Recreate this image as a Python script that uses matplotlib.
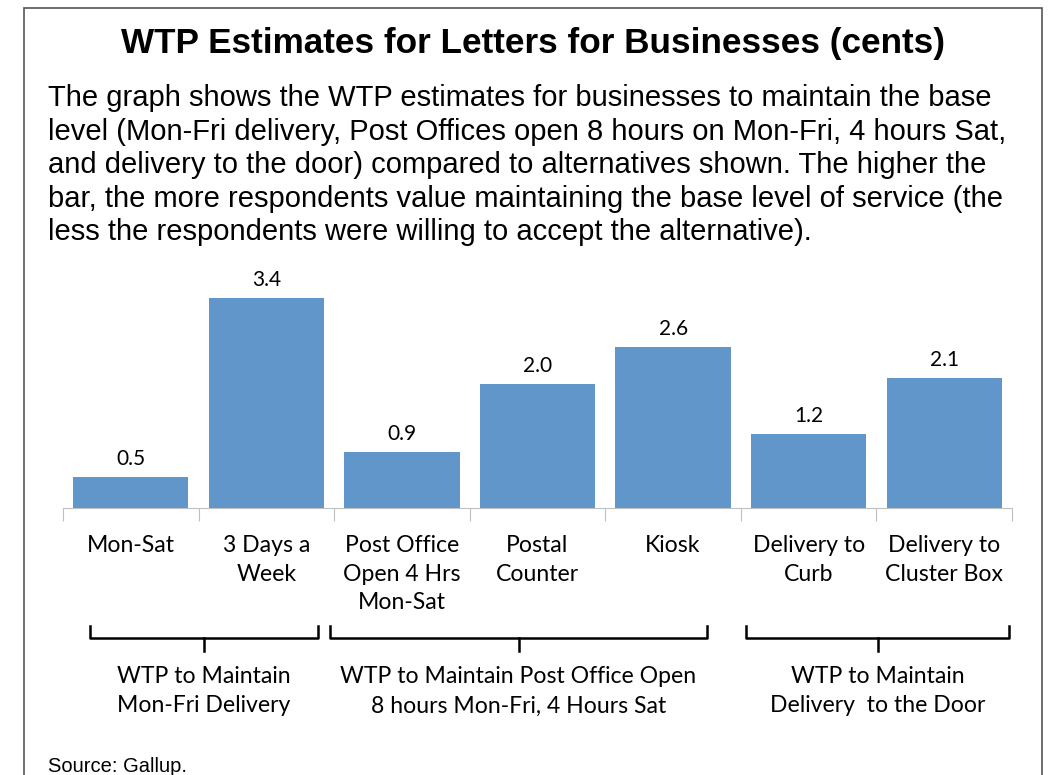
import matplotlib

matplotlib.use("Agg")

import matplotlib.pyplot as plt
from matplotlib.patches import Rectangle

CATEGORIES = ["Mon-Sat", "3 Days a\nWeek", "Post Office\nOpen 4 Hrs\nMon-Sat",
              "Postal\nCounter", "Kiosk", "Delivery to\nCurb",
              "Delivery to\nCluster Box"]
VALUES = [0.5, 3.4, 0.9, 2.0, 2.6, 1.2, 2.1]
VALUE_LABELS = ["0.5", "3.4", "0.9", "2.0", "2.6", "1.2", "2.1"]

# groups: (first category, last category, label)
GROUPS = [
    (0, 1, "WTP to Maintain\nMon-Fri Delivery"),
    (2, 4, "WTP to Maintain Post Office Open\n8 hours Mon-Fri, 4 Hours Sat"),
    (5, 6, "WTP to Maintain\nDelivery  to the Door"),
]

TITLE = "WTP Estimates for Letters for Businesses (cents)"
BODY = [
    "The graph shows the WTP estimates for businesses to maintain the base",
    "level (Mon-Fri delivery, Post Offices open 8 hours on Mon-Fri, 4 hours Sat,",
    "and delivery to the door) compared to alternatives shown. The higher the",
    "bar, the more respondents value maintaining the base level of service (the",
    "less the respondents were willing to accept the alternative).",
]
SOURCE = "Source: Gallup."

BAR_COLOR = "#6196CA"
AXIS_COLOR = "#BFBFBF"
LABEL_FONT = ["Lato", "DejaVu Sans"]
HEAD_FONT = ["Liberation Sans", "DejaVu Sans"]

W, H = 1048, 775
fig = plt.figure(figsize=(W / 100, H / 100), dpi=100)

# frame around the whole panel (bottom edge runs off the image)
fig.patches.append(Rectangle((24 / W, -0.02), (1042 - 24) / W, 1 - 8 / H + 0.02,
                             transform=fig.transFigure, fill=False,
                             edgecolor="#555555", lw=1.2))

fig.text(533 / W, 1 - 43 / H, TITLE, ha="center", va="center",
         fontsize=25.3, fontweight="bold", family=HEAD_FONT)
for i, line in enumerate(BODY):
    fig.text(48 / W, 1 - (98 + i * 33.6) / H, line, ha="left", va="center",
             fontsize=21, family=HEAD_FONT)
fig.text(48 / W, 1 - 766 / H, SOURCE, ha="left", va="center",
         fontsize=14.5, family=HEAD_FONT)

# axes: baseline at y=508 px, x from 63 to 1012 px
ax = fig.add_axes([63 / W, 1 - 508 / H, (1012 - 63) / W, 247.2 / H])
ax.set_xlim(-0.5, len(VALUES) - 0.5)
ax.set_ylim(0, 4.0)
x = range(len(VALUES))
ax.bar(x, VALUES, width=0.85, color=BAR_COLOR)
for xi, v, lab in zip(x, VALUES, VALUE_LABELS):
    ax.annotate(lab, (xi, v), xytext=(0, 8), textcoords="offset pixels",
                ha="center", va="bottom", fontsize=15, family=LABEL_FONT)

for s in ("top", "right", "left"):
    ax.spines[s].set_visible(False)
ax.spines["bottom"].set_color(AXIS_COLOR)
ax.set_yticks([])
ax.set_xticks([i - 0.5 for i in range(len(VALUES) + 1)])
ax.set_xticklabels([])
ax.tick_params(axis="x", length=9, color=AXIS_COLOR, direction="out")

px = 61.8  # pixels per data unit on y
for xi, cat in zip(x, CATEGORIES):
    ax.text(xi, -27 / px, cat, ha="center", va="top", fontsize=16.6,
            family=LABEL_FONT, linespacing=1.45)

# curly brackets under the groups: (left pad, right pad) from the group edges
PADS = [(0.2, -0.12), (-0.03, -0.25), (0.04, -0.02)]
b_top, b_mid, b_tip = -118 / px, -130 / px, -143 / px
for (first, last, lab), (lp, rp) in zip(GROUPS, PADS):
    left = first - 0.5 + lp
    right = last + 0.5 + rp
    mid = (left + right) / 2
    ax.plot([left, left, right, right], [b_top, b_mid, b_mid, b_top],
            color="black", lw=1.8, clip_on=False, solid_joinstyle="round")
    ax.plot([mid, mid], [b_mid, b_tip], color="black", lw=1.8, clip_on=False)
    ax.text(mid, -158 / px, lab, ha="center", va="top", fontsize=16.6,
            family=LABEL_FONT, linespacing=1.5)

fig.savefig("out.png", dpi=100)
